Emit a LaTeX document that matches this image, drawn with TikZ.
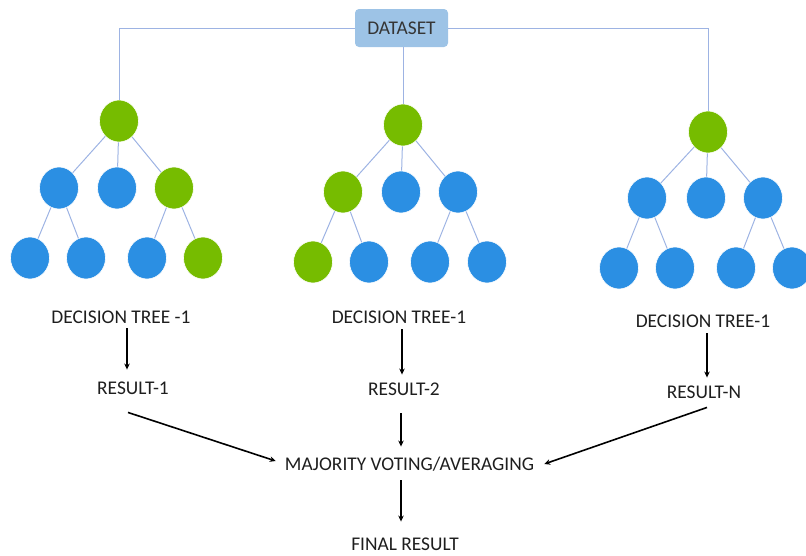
\documentclass[tikz,border=0pt]{standalone}
\usepackage{fontspec}
\setmainfont{Carlito}
\usetikzlibrary{shapes.geometric,arrows.meta}
\definecolor{gr}{HTML}{76BC00}
\definecolor{bl}{HTML}{2B8FE3}
\definecolor{edgec}{HTML}{9DB3E3}
\definecolor{dsfill}{HTML}{9DC3E6}
\definecolor{txt}{HTML}{1E1E1E}
\tikzset{
 leaf/.style={ellipse, minimum width=39pt, minimum height=42pt, inner sep=0pt, draw=white, line width=0.6pt},
 gnode/.style={leaf, fill=gr},
 bnode/.style={leaf, fill=bl},
 tedge/.style={draw=edgec, line width=1pt},
 lbl/.style={font=\fontsize{19.4}{22}\selectfont, text=txt, inner sep=0pt, text height=12.5pt, text depth=0pt},
 arr/.style={-{Stealth[length=6pt,width=5.5pt]}, line width=1.6pt, black},
}
\begin{document}
\begin{tikzpicture}[x=1pt,y=-1pt]
\useasboundingbox (0,0) rectangle (806,555);
% dataset
\node[lbl, fill=dsfill, rounded corners=4pt, minimum width=93pt, minimum height=38pt, text=txt!90!white] (ds) at (401.5,28) {DATASET};
% tree 1
\node[gnode] (a0) at (119,121) {};
\node[bnode] (a1) at (59,188) {};
\node[bnode] (a2) at (117,188) {};
\node[gnode] (a3) at (174,188) {};
\node[bnode] (a4) at (30,258) {};
\node[bnode] (a5) at (86,258) {};
\node[bnode] (a6) at (147,258) {};
\node[gnode] (a7) at (203,258) {};
% tree 2
\node[gnode] (b0) at (403,125) {};
\node[gnode] (b1) at (343,192) {};
\node[bnode] (b2) at (401,192) {};
\node[bnode] (b3) at (458,192) {};
\node[gnode] (b4) at (313,262) {};
\node[bnode] (b5) at (369,262) {};
\node[bnode] (b6) at (430,262) {};
\node[bnode] (b7) at (487,262) {};
% tree 3
\node[gnode] (c0) at (708,132) {};
\node[bnode] (c1) at (647,198) {};
\node[bnode] (c2) at (706,198) {};
\node[bnode] (c3) at (763,198) {};
\node[bnode] (c4) at (619,268) {};
\node[bnode] (c5) at (675,268) {};
\node[bnode] (c6) at (736,268) {};
\node[bnode] (c7) at (792,268) {};
% tree edges
\foreach \t in {a,b,c}{
  \draw[tedge] (\t0) -- (\t1);
  \draw[tedge] (\t0) -- (\t2);
  \draw[tedge] (\t0) -- (\t3);
  \draw[tedge] (\t1) -- (\t4);
  \draw[tedge] (\t1) -- (\t5);
  \draw[tedge] (\t3) -- (\t6);
  \draw[tedge] (\t3) -- (\t7);
}
% dataset connectors
\draw[tedge] (ds.west) -| (a0);
\draw[tedge] (ds.east) -| (c0);
\draw[tedge] (ds.south -| b0) -- (b0);
% labels
\node[lbl] (dt1) at (121,317) {DECISION TREE -1};
\node[lbl] (dt2) at (399,317) {DECISION TREE-1};
\node[lbl] (dt3) at (703,321) {DECISION TREE-1};
\node[lbl] (res1) at (133,388) {RESULT-1};
\node[lbl] (res2) at (404,389) {RESULT-2};
\node[lbl] (res3) at (704,392) {RESULT-N};
\node[lbl] (maj) at (409.5,464) {MAJORITY VOTING/AVERAGING};
\node[lbl] (fin) at (405,544) {FINAL RESULT};
% arrows
\draw[arr] ([shift={(6,5)}]dt1.south) -- ([shift={(-6,-12)}]res1.north);
\draw[arr] ([shift={(3,6)}]dt2.south) -- ([shift={(-2,-8)}]res2.north);
\draw[arr] ([shift={(4,6)}]dt3.south) -- ([shift={(3,-8)}]res3.north);
\draw[arr] ([shift={(-3,18)}]res2.south) -- ([shift={(-8.5,-11)}]maj.north);
\draw[arr] ([shift={(-8.5,10)}]maj.south) -- ([shift={(-4,-16)}]fin.north);
\draw[arr] ([shift={(-5,18)}]res1.south) -- ([shift={(-9,-3)}]maj.west);
\draw[arr] ([shift={(3,9)}]res3.south) -- ([shift={(10,0)}]maj.east);
\end{tikzpicture}
\end{document}
